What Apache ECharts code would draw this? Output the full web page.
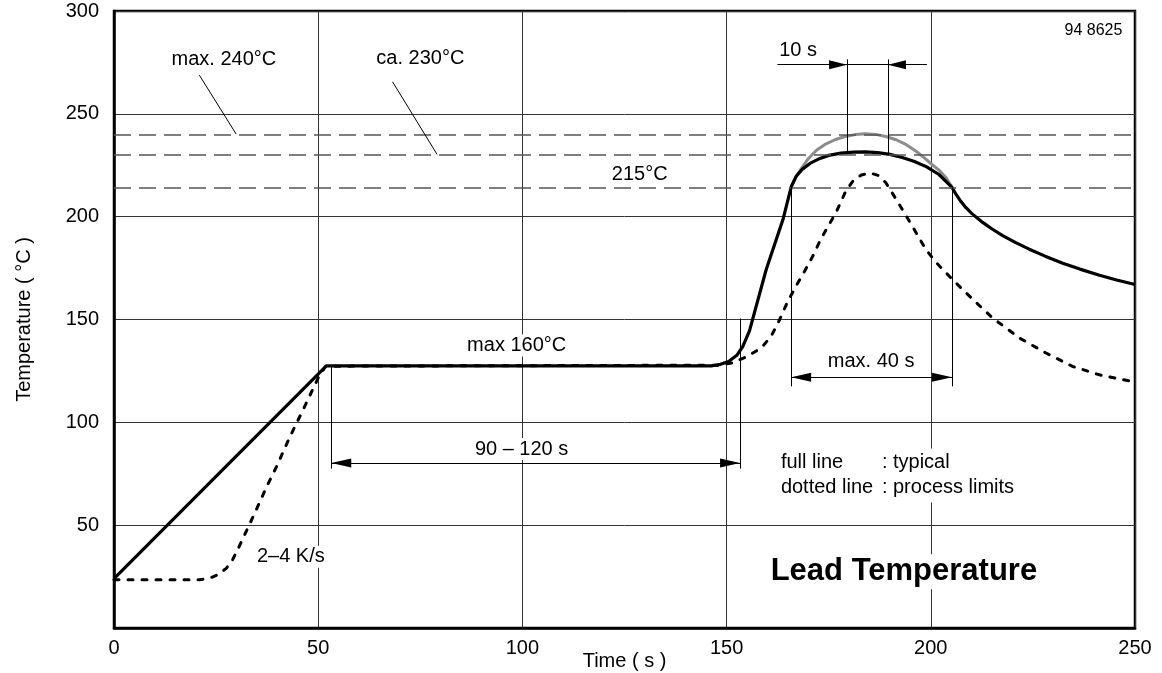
<!DOCTYPE html>
<html><head><meta charset="utf-8">
<script src="https://cdn.jsdelivr.net/npm/echarts@6/dist/echarts.min.js"></script>
<style>html,body{margin:0;padding:0;background:#fff}#chart{width:1162px;height:673px}</style>
</head><body><div id="chart"></div>
<script>
// ---- data (time s, temperature °C) ----
const typicalCurve = [[0,24],[52,127.5],[146.5,127.5],[148.5,128.2],[150.5,129.6],[152.5,132.6],[154,137],[155.6,144.5],[159.7,174.3],[163.8,198.6],[165.8,214.4],
  [167,219.5],[168.5,223],[170.5,226],[172.5,228],[175,229.8],[178,230.9],[181,231.4],[184,231.5],[187,231.1],[190,230.3],[193,228.8],[196,226.8],[199,224.2],[202,220.5],[205.2,214.2],
  [206.2,210.8],[207.3,207.6],[208.5,204.6],[210,201.6],[212.7,197.2],[215,194],[217.6,190.8],[220.8,187.4],[224.1,184.2],[228,180.8],[232.3,177.4],[236.5,174.5],[241.3,171.5],[245.5,169.2],[250,167]];
const processLimitCurve = [[0,23.5],[21,23.5],[23.5,24.3],[25.5,26],[27.5,29],[29,33],[30.5,39],[32.5,47.5],[34.5,56],[37.4,68.8],[39.8,78.5],[43.1,93.1],[46.3,106.1],[50,121.6],[51.8,127.3],
  [148,127.8],[151.5,128.9],[154.8,131.8],[158.5,136.2],[160.9,141.8],[163,150],[165,158.9],[167,166.2],[169.1,173.5],[171.1,180.8],[172.8,188],[174.6,194.5],[176.8,202],[179.2,212.5],
  [181,217.5],[183,220.3],[185.2,221.2],[187.2,220],[189,216.5],[191.5,208.5],[194,200.3],[196.4,192.2],[198.8,184],[201.2,178],[203.7,172.7],[208.6,163],[215.1,150.8],[221.7,141],
  [228.2,133.7],[234.7,127.2],[241.3,123.1],[250,119.6]];
const peakLimitCurve = [[165.8,214.4],[167,219.5],[168.5,224],[170,228.2],[172,232.3],[174,235],[176.5,237.4],[179,239],[181.5,239.9],[184,240.3],[186.5,240],[189,239],[191.5,237.4],[194,235],[196.4,231.8],[198.5,228.5],[200.5,225],[202.1,222.5],[203.8,218.8],[205.2,214.2]];
const refTemps = [240, 230, 214];
const xTickValues = [0, 50, 100, 150, 200, 250];
const yTickValues = [50, 100, 150, 200, 250, 300];

// dimension / leader lines (time s, temperature °C)
const extensionLines = [
  [[53.2,127.5],[53.2,77.5]], [[153.3,150.5],[153.3,77.5]],
  [[165.8,214.4],[165.8,117.5]], [[205.2,214.2],[205.2,117.5]],
  [[179.5,276.5],[179.5,231.2]], [[189.5,276.5],[189.5,230.8]],
  [[162.5,273.9],[199,273.9]],
  [[20.9,268.8],[29.9,240.2]], [[68.2,265.6],[79.1,230.3]]
];
const outwardArrows = [ [[53.2,80.2],[153.3,80.2]], [[165.8,121.9],[205.2,121.9]] ];
const inwardArrows = [ [[162.5,273.9],[179.5,273.9]], [[199,273.9],[189.5,273.9]] ];

// annotation texts: [text, time, temperature, align]
const annotations = [
  ['max. 240°C', 26.9, 276.2, 'center'],
  ['ca. 230°C', 75, 276.8, 'center'],
  ['10 s', 162.4, 280.6, 'left'],
  ['215°C', 121.4, 220.6, 'left'],
  ['max 160°C', 98.6, 137.3, 'center'],
  ['90 – 120 s', 99.8, 87, 'center'],
  ['max. 40 s', 185.4, 129.7, 'center'],
  ['2–4 K/s', 34.5, 34.7, 'left']
];
const figureId = ['94 8625', 247.4, 290.5];
const legendNote = [['full line', ': typical'], ['dotted line', ': process limits'], 162.8, 74.2];
const chartTitle = ['Lead Temperature', 160.3, 27.4];

const FONT = 'Liberation Sans, Arial, sans-serif';
const arrowPath = 'path://M5,20 L10,40 L0,40 Z M5,0';
const toPairs = arr => arr.map(seg => [{coord: seg[0]}, {coord: seg[1]}]);

const chart = echarts.init(document.getElementById('chart'), null, {renderer: 'canvas'});

const labelData = annotations.map(a => ({
  name: a[0], value: [a[1], a[2]],
  label: {align: a[3]}
}));
labelData.push({name: figureId[0], value: [figureId[1], figureId[2]], label: {align: 'right', fontSize: 16}});
labelData.push({name: chartTitle[0], value: [chartTitle[1], chartTitle[2]], label: {align: 'left', fontSize: 31, fontWeight: 'bold', backgroundColor: '#fff', padding: [2, 2]}});
labelData.push({
  name: 'legend', value: [legendNote[2], legendNote[3]],
  label: {
    align: 'left',
    formatter: '{a|' + legendNote[0][0] + '}{b|' + legendNote[0][1] + '}\n{a|' + legendNote[1][0] + '}{b|' + legendNote[1][1] + '}',
    backgroundColor: '#fff', padding: [2, 2],
    rich: {
      a: {width: 101, fontSize: 20, fontFamily: FONT, color: '#000', lineHeight: 25},
      b: {fontSize: 20, fontFamily: FONT, color: '#000', lineHeight: 25}
    }
  }
});

const option = {
  backgroundColor: '#fff',
  animation: false,
  grid: {left: 114, right: 27, top: 11, bottom: 45, outerBoundsMode: 'none', containLabel: false,
    show: true, borderColor: '#000', borderWidth: 2.5, backgroundColor: 'transparent'},
  xAxis: {
    type: 'value', min: 0, max: 250, interval: 50,
    name: 'Time ( s )', nameLocation: 'middle', nameGap: 23, nameMoveOverlap: false,
    nameTextStyle: {fontSize: 20, fontFamily: FONT, color: '#000'},
    axisLine: {show: true, lineStyle: {color: '#000', width: 2.5}},
    axisTick: {show: false},
    axisLabel: {fontSize: 20, fontFamily: FONT, color: '#000', margin: 10,
      formatter: v => xTickValues.includes(v) ? String(v) : ''},
    splitLine: {show: true, lineStyle: {color: '#333', width: 1}}
  },
  yAxis: {
    type: 'value', min: 0, max: 300, interval: 50,
    name: 'Temperature ( °C )', nameLocation: 'middle', nameGap: 80, nameRotate: 90,
    nameTextStyle: {fontSize: 20, fontFamily: FONT, color: '#000'},
    axisLine: {show: true, lineStyle: {color: '#000', width: 2.5}},
    axisTick: {show: false},
    axisLabel: {fontSize: 20, fontFamily: FONT, color: '#000', margin: 15,
      formatter: v => yTickValues.includes(v) ? String(v) : ''},
    splitLine: {show: true, lineStyle: {color: '#333', width: 1}}
  },
  series: [
    {
      name: 'reference levels', type: 'line', data: [], silent: true,
      markLine: {
        silent: true, symbol: 'none', animation: false,
        label: {show: false},
        lineStyle: {type: [17, 8], color: '#555', width: 1.5},
        data: refTemps.map(t => ({yAxis: t}))
      }
    },
    {
      name: 'dimension lines', type: 'line', data: [], silent: true,
      markLine: {
        silent: true, symbol: 'none', animation: false, label: {show: false},
        lineStyle: {type: 'solid', color: '#000', width: 1},
        data: toPairs(extensionLines)
      }
    },
    {
      name: 'outward arrows', type: 'line', data: [], silent: true,
      markLine: {
        silent: true, symbol: [arrowPath, arrowPath], symbolSize: [9, 40], animation: false, label: {show: false},
        lineStyle: {type: 'solid', color: '#000', width: 1},
        itemStyle: {color: '#000'},
        data: toPairs(outwardArrows)
      }
    },
    {
      name: 'inward arrows', type: 'line', data: [], silent: true,
      markLine: {
        silent: true, symbol: ['none', arrowPath], symbolSize: [9, 36], animation: false, label: {show: false},
        lineStyle: {type: 'solid', color: '#000', width: 1},
        itemStyle: {color: '#000'},
        data: toPairs(inwardArrows)
      }
    },
    {
      name: 'peak limit', type: 'line', data: peakLimitCurve, showSymbol: false, silent: true,
      lineStyle: {color: '#8c8c8c', width: 3}
    },
    {
      name: 'process limits', type: 'line', data: processLimitCurve, showSymbol: false, silent: true,
      lineStyle: {color: '#000', width: 3, type: [5, 9], cap: 'round'}
    },
    {
      name: 'typical', type: 'line', data: typicalCurve, showSymbol: false, silent: true,
      lineStyle: {color: '#000', width: 3.2, join: 'round'}
    },
    {
      name: 'annotations', type: 'scatter', data: labelData, symbolSize: 0, silent: true, z: 10,
      itemStyle: {opacity: 1},
      label: {
        show: true, position: 'inside', formatter: '{b}', verticalAlign: 'middle',
        fontSize: 20, fontFamily: FONT, color: '#000', opacity: 1,
        backgroundColor: '#fff', padding: [1, 2]
      }
    }
  ]
};
chart.setOption(option);
</script>
</body></html>
